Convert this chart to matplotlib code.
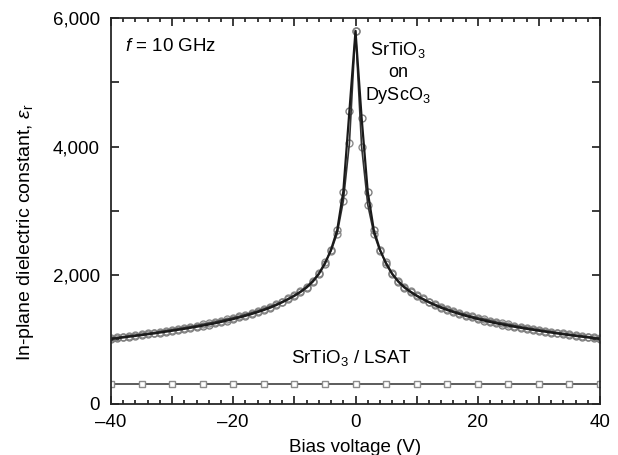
"""
plot.py - in-plane dielectric constant vs bias voltage
"""
import numpy as np
import matplotlib
matplotlib.use("Agg")
import matplotlib.pyplot as plt
from matplotlib.ticker import MultipleLocator, FuncFormatter

# --------------------------------- #
# data

biasVoltage = np.arange(-40, 41, 1)

# SrTiO3 on DyScO3, first sweep (-40 .. 40 V, 1 V steps)
epsSweep1 = [1010, 1022, 1034, 1046, 1058, 1070, 1083, 1096, 1110, 1124,   # -40 .. -31
             1138, 1153, 1168, 1184, 1200, 1217, 1235, 1254, 1275, 1297,   # -30 .. -21
             1320, 1345, 1370, 1398, 1428, 1460, 1495, 1535, 1580, 1628,   # -20 .. -11
             1680, 1740, 1810, 1900, 2020, 2180, 2400, 2700, 3300, 4550,   # -10 .. -1
             5800,                                                          # 0
             4450, 3300, 2700, 2400, 2180, 2020, 1900, 1810, 1740, 1680,   # 1 .. 10
             1628, 1580, 1535, 1495, 1460, 1428, 1398, 1370, 1345, 1320,   # 11 .. 20
             1297, 1275, 1254, 1235, 1217, 1200, 1184, 1168, 1153, 1138,   # 21 .. 30
             1124, 1110, 1096, 1083, 1070, 1058, 1046, 1034, 1022, 1010]   # 31 .. 40

# second sweep (differs mostly near zero bias)
epsSweep2 = [1025, 1036, 1048, 1060, 1072, 1085, 1098, 1111, 1125, 1139,
             1154, 1169, 1185, 1201, 1218, 1236, 1255, 1275, 1296, 1318,
             1340, 1364, 1390, 1417, 1446, 1478, 1512, 1550, 1592, 1640,
             1692, 1752, 1825, 1915, 2030, 2200, 2380, 2650, 3150, 4050,
             5800,
             4000, 3100, 2650, 2380, 2200, 2030, 1915, 1825, 1752, 1692,
             1640, 1592, 1550, 1512, 1478, 1446, 1417, 1390, 1364, 1340,
             1318, 1296, 1275, 1255, 1236, 1218, 1201, 1185, 1169, 1154,
             1139, 1125, 1111, 1098, 1085, 1072, 1060, 1048, 1036, 1025]

# SrTiO3 / LSAT
lsatVoltage = np.arange(-40, 41, 5)
epsLsat = [310, 310, 310, 310, 310, 310, 310, 310, 310,
           310, 310, 310, 310, 310, 310, 310, 310]

# --------------------------------- #

plt.rcParams['font.family'] = ['Liberation Sans', 'DejaVu Sans']
plt.rcParams['mathtext.fontset'] = 'custom'
plt.rcParams['mathtext.rm'] = 'Liberation Sans'
plt.rcParams['mathtext.it'] = 'Liberation Sans:italic'

fig = plt.figure(figsize=(6.18, 4.55), dpi=100)
ax = fig.add_axes([0.1796, 0.1121, 0.7913, 0.8484])

# circles (both sweeps) then the lines on top
ax.plot(biasVoltage, epsSweep2, 'o', ms=5, mfc='none', mec='0.55', mew=1.0)
ax.plot(biasVoltage, epsSweep1, 'o', ms=5, mfc='none', mec='0.5', mew=1.0)
ax.plot(biasVoltage, epsSweep2, '-', color='0.2', lw=1.2)
ax.plot(biasVoltage, epsSweep1, '-', color='0.1', lw=1.6)

ax.plot(lsatVoltage, epsLsat, '-', color='0.25', lw=1.2)
ax.plot(lsatVoltage, epsLsat, 's', ms=5, mfc='white', mec='0.55', mew=1.0)

ax.set_xlim(-40, 40)
ax.set_ylim(0, 6000)

ax.xaxis.set_major_locator(MultipleLocator(10))
ax.xaxis.set_minor_locator(MultipleLocator(2))
ax.yaxis.set_major_locator(MultipleLocator(1000))

ax.xaxis.set_major_formatter(FuncFormatter(
    lambda v, p: ('\u2013%d' % abs(v) if v < 0 else '%d' % v) if v % 20 == 0 else ''))
ax.yaxis.set_major_formatter(FuncFormatter(
    lambda v, p: '{:,.0f}'.format(v) if v % 2000 == 0 else ''))

ax.tick_params(which='both', direction='in', top=True, right=True,
               labelsize=13.5, width=1.2, color='0.1')
ax.tick_params(which='major', length=6)
ax.tick_params(which='minor', length=3)
ax.tick_params(axis='x', which='major', pad=7)
ax.tick_params(axis='y', which='major', pad=8)

for spine in ax.spines.values():
    spine.set_linewidth(1.3)
    spine.set_color('0.15')

ax.set_xlabel('Bias voltage (V)', fontsize=13.5, labelpad=6)
ax.set_ylabel(r'In-plane dielectric constant, $\varepsilon_{\rm r}$', fontsize=14,
              labelpad=12, y=0.446)

ax.text(-37.7, 5550, r'$f$ = 10 GHz', fontsize=13.5, va='center', ha='left')
ax.text(7, 5145, 'SrTiO$_3$\non\nDyScO$_3$', fontsize=13, ha='center', va='center',
        linespacing=1.3)
ax.text(-0.7, 715, 'SrTiO$_3$ / LSAT', fontsize=13.5, ha='center', va='center')

plt.savefig('out.png', dpi=100)
